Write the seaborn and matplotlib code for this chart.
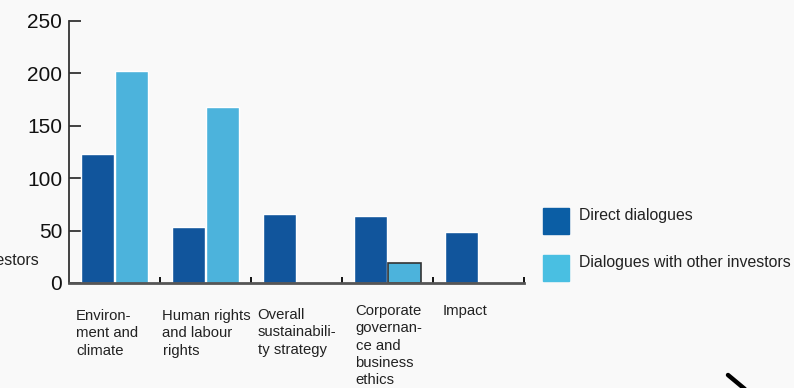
import numpy as np
import pandas as pd
import matplotlib
matplotlib.use("Agg")
import matplotlib.pyplot as plt
import seaborn as sns
from matplotlib.lines import Line2D
from matplotlib.patches import Rectangle

# ---- data ----
categories = ["Environ-\nment and\nclimate",
              "Human rights\nand labour\nrights",
              "Overall\nsustainabili-\nty strategy",
              "Corporate\ngovernan-\nce and\nbusiness\nethics",
              "Impact"]
series = ["Direct dialogues", "Dialogues with other investors"]
direct = [123, 53, 66, 64, 49]
other = [202, 168, np.nan, 19, np.nan]
yticks = [0, 50, 100, 150, 200, 250]

# ---- layout (pixels) ----
W, H = 794, 388
label_dx_px = [7.0, 2.5, 6.5, 13.5, 9.5]
label_top_px = [309, 309, 308, 304, 304]

sns.set_theme(style="white")
plt.rcParams["font.family"] = ["Liberation Sans", "DejaVu Sans"]

bg = "#f9f9f9"
fig = plt.figure(figsize=(W / 100, H / 100), dpi=100, facecolor=bg)
ax = fig.add_axes([69 / W, 105 / H, 455 / W, 262 / H])
ax.set_facecolor(bg)

df = pd.DataFrame({
    "cat": categories * 2,
    "series": [series[0]] * len(categories) + [series[1]] * len(categories),
    "value": direct + other,
})
sns.barplot(data=df, x="cat", y="value", hue="series", order=categories,
            hue_order=series, palette=["#11559c", "#4cb3dc"], width=0.76,
            gap=0.045, saturation=1, legend=False, ax=ax)

for p in ax.patches:
    cx = p.get_x() + p.get_width() / 2
    if 3 < cx < 3.5 and p.get_height() > 0:
        p.set_edgecolor("#333333")
        p.set_linewidth(1.2)

ax.set_xlim(-0.5, len(categories) - 0.5)
ax.set_ylim(0, 250)
ax.set_xlabel("")
ax.set_ylabel("")
for s in ["top", "right"]:
    ax.spines[s].set_visible(False)
ax.spines["left"].set_color("#333333")
ax.spines["left"].set_linewidth(1.3)
ax.spines["bottom"].set_color("#555555")
ax.spines["bottom"].set_linewidth(2)

ax.set_xticks([i + 0.5 for i in range(len(categories))])
ax.set_xticklabels([])
ax.tick_params(axis="x", direction="in", length=4, width=1.3, color="black", bottom=True)
ax.set_yticks(yticks)
ax.set_yticklabels([str(v) for v in yticks], fontsize=15, color="#111111")
ax.tick_params(axis="y", direction="in", length=8.5, width=1.3, color="#333333", pad=5, left=True)

trans = matplotlib.transforms.blended_transform_factory(ax.transData, fig.transFigure)
for i, lab in enumerate(categories):
    ax.text(i - 0.5 + label_dx_px[i] / 91, 1 - label_top_px[i] / H, lab,
            transform=trans, ha="left", va="top", fontsize=10.7,
            linespacing=1.3, color="#222222")

# legend
leg_colors = ["#0b5ea5", "#49bfe2"]
leg_tops = [208, 255]
for c, t, name in zip(leg_colors, leg_tops, series):
    fig.add_artist(Rectangle((543 / W, 1 - (t + 26) / H), 26 / W, 26 / H,
                             transform=fig.transFigure, color=c))
    fig.text(579 / W, 1 - t / H, name, ha="left", va="top",
             fontsize=11.4, color="#222222")

# clipped text at left edge
fig.text(39 / W, 1 - 260 / H, series[1], ha="right", va="center",
         fontsize=11.4, color="#222222")

# arrow fragment
fig.add_artist(Line2D([728 / W, 752 / W], [1 - 375 / H, 1 - 395 / H],
                      transform=fig.transFigure, color="black", lw=3.2,
                      solid_capstyle="round"))

fig.savefig("out.png", dpi=100, facecolor=bg)
